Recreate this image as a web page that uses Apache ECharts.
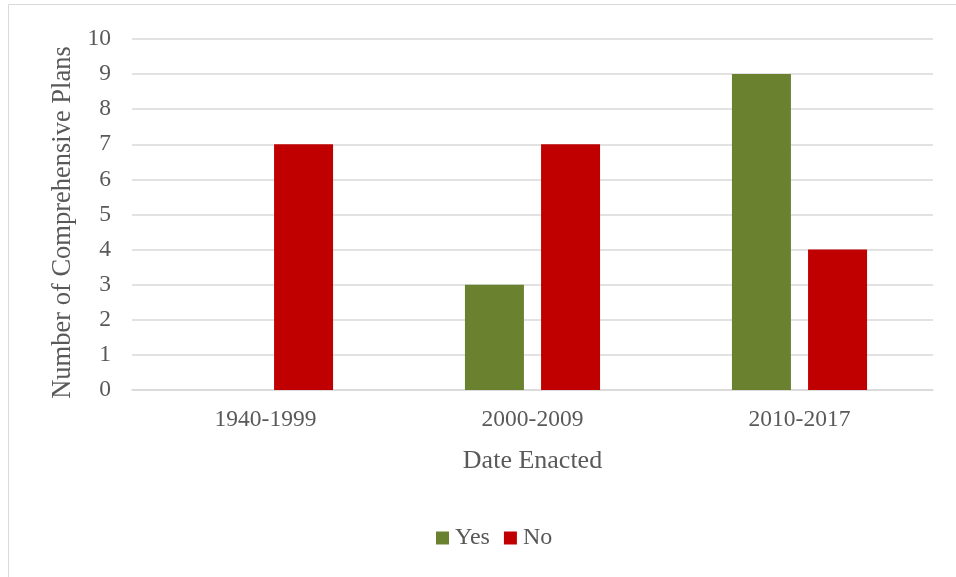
<!DOCTYPE html>
<html>
<head>
<meta charset="utf-8">
<script src="https://cdn.jsdelivr.net/npm/echarts@6/dist/echarts.min.js"></script>
<style>
html,body{margin:0;padding:0;background:#fff;}
#chart{width:956px;height:577px;}
</style>
</head>
<body>
<div id="chart"></div>
<script>
const categories = ['1940-1999', '2000-2009', '2010-2017'];
const yesValues = [0, 3, 9];
const noValues = [7, 7, 4];
const yTicks = [0, 10, 1]; // min, max, interval

const font = 'Liberation Serif, Times New Roman, serif';
const textColor = '#595959';

const chart = echarts.init(document.getElementById('chart'));
chart.setOption({
  backgroundColor: '#fff',
  animation: false,
  graphic: [{
    type: 'rect',
    shape: { x: 8.5, y: 4.5, width: 1000, height: 1000 },
    style: { fill: 'none', stroke: '#d9d9d9', lineWidth: 1 },
    silent: true
  }],
  grid: { left: 132, right: 23, top: 39, bottom: 187 },
  legend: {
    top: 521,
    left: 431,
    itemWidth: 13,
    itemHeight: 13,
    itemGap: 14,
    icon: 'rect',
    textStyle: { fontFamily: font, fontSize: 24, color: textColor, padding: [0, 0, 0, 1] },
    data: ['Yes', 'No']
  },
  xAxis: {
    type: 'category',
    data: categories,
    name: 'Date Enacted',
    nameLocation: 'middle',
    nameGap: 58,
    nameTextStyle: { fontFamily: font, fontSize: 26, color: textColor },
    axisLine: { show: true, lineStyle: { color: '#d9d9d9', width: 1.5 } },
    axisTick: { show: false },
    axisLabel: { fontFamily: font, fontSize: 23.5, color: textColor, margin: 18 }
  },
  yAxis: {
    type: 'value',
    min: yTicks[0],
    max: yTicks[1],
    interval: yTicks[2],
    name: 'Number of Comprehensive Plans',
    nameLocation: 'middle',
    nameGap: 54,
    nameTextStyle: { fontFamily: font, fontSize: 26.5, color: textColor, padding: [0, 16, 0, 0] },
    axisLine: { show: false },
    axisTick: { show: false },
    axisLabel: { fontFamily: font, fontSize: 23.5, color: textColor, margin: 21 },
    splitLine: { lineStyle: { color: '#d9d9d9', width: 1.5 } }
  },
  series: [
    {
      name: 'Yes',
      type: 'bar',
      data: yesValues,
      barWidth: 59,
      barGap: '29%',
      itemStyle: { color: '#6a8230' }
    },
    {
      name: 'No',
      type: 'bar',
      data: noValues,
      barWidth: 59,
      barGap: '29%',
      itemStyle: { color: '#c00000' }
    }
  ]
});
</script>
</body>
</html>
